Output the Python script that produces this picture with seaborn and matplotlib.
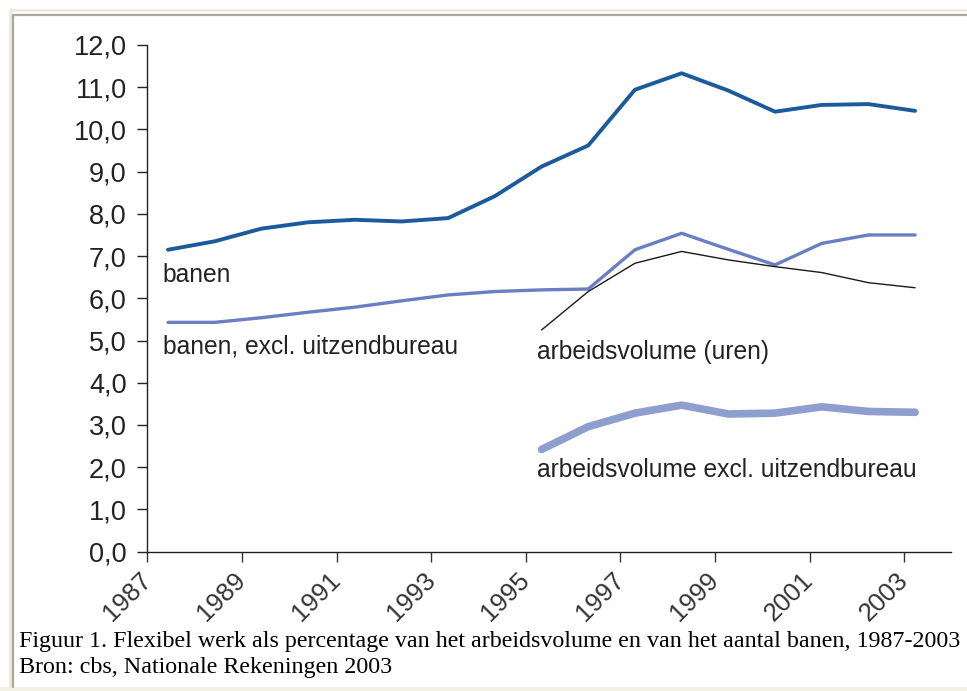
import numpy as np
import pandas as pd
import matplotlib
matplotlib.use("Agg")
import matplotlib.pyplot as plt
from matplotlib.lines import Line2D
from matplotlib.patches import Rectangle
import seaborn as sns

# data (percentages)
years = list(range(1987, 2004))
banen = [7.15, 7.35, 7.65, 7.80, 7.86, 7.82, 7.90, 8.42, 9.12, 9.62,
         10.94, 11.33, 10.92, 10.42, 10.58, 10.60, 10.44]
banen_excl = [5.43, 5.43, 5.54, 5.67, 5.79, 5.94, 6.08, 6.16, 6.20, 6.22,
              7.15, 7.54, 7.16, 6.79, 7.30, 7.50, 7.50]
years_vol = list(range(1995, 2004))
volume = [5.25, 6.16, 6.83, 7.11, 6.91, 6.75, 6.61, 6.37, 6.25]
volume_excl = [2.42, 2.96, 3.28, 3.47, 3.26, 3.28, 3.43, 3.32, 3.30]

labels = ["banen", "banen, excl. uitzendbureau",
          "arbeidsvolume (uren)", "arbeidsvolume excl. uitzendbureau"]
tick_years = list(range(1987, 2004, 2))
caption = ["Figuur 1. Flexibel werk als percentage van het arbeidsvolume en van het aantal banen, 1987-2003",
           "Bron: cbs, Nationale Rekeningen 2003"]

df_banen = pd.DataFrame({"jaar": years, "banen": banen, "excl": banen_excl})
df_vol = pd.DataFrame({"jaar": years_vol, "uren": volume, "excl": volume_excl})

sns.set_style("white")
plt.rcParams["font.family"] = ["Liberation Sans", "DejaVu Sans"]

fig = plt.figure(figsize=(9.67, 6.91), dpi=100)
fig.patch.set_facecolor("white")

# frame around the figure, like the screenshot
fig.add_artist(Rectangle((0, 0), 1, 4 / 691, transform=fig.transFigure,
                         facecolor="#F3F0E4", edgecolor="none"))
fig.add_artist(Line2D([10 / 967, 1], [1 - 10 / 691] * 2, transform=fig.transFigure,
                      color="#EEEADB", lw=2))
fig.add_artist(Line2D([10 / 967] * 2, [4 / 691, 1 - 10 / 691], transform=fig.transFigure,
                      color="#EEEADB", lw=2))
fig.add_artist(Line2D([13 / 967, 1], [1 - 15 / 691] * 2, transform=fig.transFigure,
                      color="#ACA899", lw=1.6))
fig.add_artist(Line2D([13 / 967] * 2, [4 / 691, 1 - 15 / 691], transform=fig.transFigure,
                      color="#ACA899", lw=1.6))

ax = fig.add_axes([0.1525, 0.2017, 0.831, 0.7332])

sns.lineplot(data=df_vol, x="jaar", y="excl", ax=ax, color="#8E9ECE", lw=5.5)
sns.lineplot(data=df_banen, x="jaar", y="excl", ax=ax, color="#6A7EC4", lw=2.4)
sns.lineplot(data=df_vol, x="jaar", y="uren", ax=ax, color="#1A1A1A", lw=1.0)
sns.lineplot(data=df_banen, x="jaar", y="banen", ax=ax, color="#1B5A9C", lw=2.8)

x0 = 1986.56
ax.set_xlim(x0, x0 + 17.21)
ax.set_ylim(0, 12)
ax.set_yticks(np.arange(0, 12.1, 1))
ax.set_yticklabels([f"{v:.1f}".replace(".", ",") for v in np.arange(0, 12.1, 1)])
ax.set_xticks([x0 + (y - 1987) * 1.013 for y in tick_years])
ax.set_xticklabels([str(y) for y in tick_years], rotation=45, ha="right",
                   va="center", rotation_mode="anchor")
ax.set_xlabel("")
ax.set_ylabel("")

ax.tick_params(axis="y", direction="out", length=7, width=1, pad=8,
               labelsize=19.5, colors="#222222", left=True)
ax.tick_params(axis="x", direction="out", length=7, width=1, pad=11,
               labelsize=18.5, colors="#333333", bottom=True)
sns.despine(ax=ax)
for s in ["left", "bottom"]:
    ax.spines[s].set_color("#222222")
    ax.spines[s].set_linewidth(1)

# series labels placed next to the lines
ax.text(1986.89, 6.55, labels[0], fontsize=17.7, va="center", ha="left", color="#222222")
ax.text(1986.89, 4.85, labels[1], fontsize=17.7, va="center", ha="left", color="#222222")
ax.text(1994.9, 4.73, labels[2], fontsize=17.7, va="center", ha="left", color="#222222")
ax.text(1994.9, 1.93, labels[3], fontsize=17.7, va="center", ha="left", color="#222222")

fig.text(19 / 967, 1 - 641 / 691, caption[0], fontsize=17.3, va="center", ha="left",
         family=["Liberation Serif", "DejaVu Serif"], color="black")
fig.text(19 / 967, 1 - 667 / 691, caption[1], fontsize=17.3, va="center", ha="left",
         family=["Liberation Serif", "DejaVu Serif"], color="black")

fig.savefig("out.png", dpi=100)
